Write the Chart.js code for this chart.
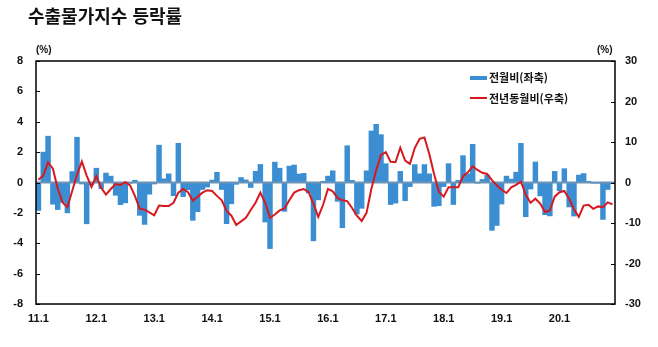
<!DOCTYPE html>
<html lang="ko">
<head>
<meta charset="UTF-8">
<title>수출물가지수 등락률</title>
<style>
    body { margin: 0; background: #fff; }
    #wrap { position: relative; width: 658px; height: 347px; }
    #chart { position: absolute; left: 0; top: 0; }
    .title {
        position: absolute; left: 28px; top: 2px;
        font-family: "Noto Sans CJK KR", sans-serif; font-weight: 700;
        font-size: 18px; color: #111;
    }
    .unit {
        position: absolute; top: 44px;
        font-family: "Liberation Sans", Arial, sans-serif; font-weight: 700;
        font-size: 10px; color: #111;
    }
    .legend {
        position: absolute; left: 470px;
        font-family: "Noto Sans CJK KR", sans-serif; font-weight: 700;
        font-size: 11px; color: #111; line-height: 14px;
    }
    .legend span.sw { position: absolute; left: 0; width: 17px; }
    .legend span.tx { position: absolute; left: 19px; top: 0; white-space: nowrap; }
</style>
<script src="https://cdn.jsdelivr.net/npm/chart.js"></script>
</head>
<body>
<div id="wrap">
    <canvas id="chart" width="658" height="347"></canvas>
    <div class="title">수출물가지수 등락률</div>
    <div class="unit" style="left:36px">(%)</div>
    <div class="unit" style="left:597px">(%)</div>
    <div class="legend" style="top:70px"><span class="sw" style="top:6px;height:4px;background:#3b8ed2"></span><span class="tx">전월비(좌축)</span></div>
    <div class="legend" style="top:91px"><span class="sw" style="top:6px;height:2px;background:#d7191f"></span><span class="tx">전년동월비(우축)</span></div>
</div>
<script>
// 연도 (x축 눈금은 매년 1월)
var years = ['11', '12', '13', '14', '15', '16', '17', '18', '19', '20'];

// 전월비 (%), 2011.1 ~ 2020.12
var momChange = [
    -1.84, 2.0, 3.05, -1.43, -1.78, -1.3, -2.0, 0.72, 2.98, -0.1, -2.72, -0.15,
    0.94, -0.4, 0.62, 0.42, -0.84, -1.46, -1.34, -0.05, 0.15, -2.16, -2.76, -0.77,
    -0.1, 2.46, 0.24, 0.57, -0.87, 2.58, -0.93, -0.48, -2.49, -1.92, -0.46, -0.3,
    0.16, 0.67, -0.46, -2.71, -1.4, -0.12, 0.33, 0.17, -0.33, 0.74, 1.19, -2.6,
    -4.35, 1.34, 0.94, -1.9, 1.08, 1.15, 0.56, 0.6, -0.7, -3.84, -1.14, 0.08,
    0.42, 0.77, -1.24, -2.98, 2.42, 0.14, -2.08, -1.7, 0.77, 3.39, 3.83, 3.15,
    1.24, -1.45, -1.36, 0.73, -1.2, -0.27, 1.18, 0.57, 1.18, 0.57, -1.57, -1.53,
    -0.27, 1.24, -1.45, 0.14, 1.77, 0.57, 2.51, -0.05, 0.2, 0.47, -3.15, -2.83,
    -1.42, 0.42, 0.22, 0.68, 2.58, -2.25, -0.43, 1.35, -0.88, -2.12, -2.2, 0.73,
    -0.54, 0.91, -1.61, -2.21, 0.49, 0.59, 0.08, -0.05, -0.05, -2.43, -0.46, -0.05
];

// 전년동월비 (%)
var yoyChange = [
    0.7, 1.7, 5.0, 3.4, -1.5, -4.9, -6.1, -2.1, 1.9, 5.2, 1.7, -1.1,
    1.6, -1.3, -3.0, -1.6, -0.4, -0.6, 0.1, -0.7, -3.3, -6.5, -6.7, -7.4,
    -8.1, -5.7, -5.8, -5.8, -5.0, -2.5, -1.6, -2.4, -4.5, -3.5, -2.5, -1.9,
    -2.1, -3.3, -4.4, -7.0, -8.2, -10.5, -9.6, -8.7, -6.8, -5.0, -2.5, -5.0,
    -8.7, -7.9, -6.9, -6.4, -4.4, -2.5, -1.9, -1.6, -2.4, -5.3, -8.5, -5.5,
    -1.6, -2.2, -3.8, -4.4, -4.6, -6.3, -8.2, -9.5, -7.5, -1.6, 3.0, 6.8,
    7.5, 5.1, 5.0, 8.6, 5.4, 4.6, 8.5, 10.8, 11.1, 7.1, 2.1, -2.3,
    -3.5, -1.2, -1.2, -1.2, 1.5, 2.5, 4.0, 3.1, 2.4, 2.1, 0.6, -0.7,
    -1.8, -2.6, -1.2, -0.6, 0.2, -3.0, -5.0, -4.0, -5.2, -7.3, -6.9, -3.5,
    -2.4, -2.1, -4.0, -6.6, -8.5, -5.7, -5.5, -6.5, -5.9, -6.1, -4.9, -5.4
];

var labels = [];
years.forEach(function (y) {
    for (var m = 1; m <= 12; m++) labels.push(y + '.' + m);
});

var tickFont = { family: '"Liberation Sans", Arial, sans-serif', size: 11, weight: 'bold' };

// 테두리, 0선, 안쪽 눈금
var framePlugin = {
    id: 'frame',
    beforeDatasetDraw: function (chart, args) {
        if (args.index !== 1) return;
        var a = chart.chartArea, y0 = chart.scales.y.getPixelForValue(0);
        var ctx = chart.ctx;
        ctx.save();
        ctx.strokeStyle = '#6f93b5';
        ctx.lineWidth = 2;
        ctx.beginPath();
        ctx.moveTo(a.left, y0);
        ctx.lineTo(a.right, y0);
        ctx.stroke();
        ctx.restore();
    },
    afterDraw: function (chart) {
        var a = chart.chartArea, ctx = chart.ctx;
        ctx.save();
        ctx.strokeStyle = '#000';
        ctx.lineWidth = 1.5;
        ctx.strokeRect(a.left, a.top, a.right - a.left, a.bottom - a.top);
        ctx.lineWidth = 1;
        chart.scales.y.ticks.forEach(function (t) {
            var py = Math.round(chart.scales.y.getPixelForValue(t.value)) + 0.5;
            ctx.beginPath(); ctx.moveTo(a.left, py); ctx.lineTo(a.left + 4, py); ctx.stroke();
        });
        chart.scales.y1.ticks.forEach(function (t) {
            var py = Math.round(chart.scales.y1.getPixelForValue(t.value)) + 0.5;
            ctx.beginPath(); ctx.moveTo(a.right, py); ctx.lineTo(a.right - 4, py); ctx.stroke();
        });
        ctx.restore();
    }
};

new Chart(document.getElementById('chart'), {
    data: {
        labels: labels,
        datasets: [{
            type: 'bar',
            label: '전월비(좌축)',
            data: momChange,
            yAxisID: 'y',
            backgroundColor: '#3b8ed2',
            barPercentage: 1,
            categoryPercentage: 1,
            order: 1
        }, {
            type: 'line',
            label: '전년동월비(우축)',
            data: yoyChange,
            yAxisID: 'y1',
            borderColor: '#d7191f',
            borderWidth: 2,
            pointRadius: 0,
            tension: 0,
            fill: false,
            order: 0
        }]
    },
    options: {
        responsive: false,
        animation: false,
        devicePixelRatio: 1,
        layout: { padding: { top: 61, left: 0, right: 0, bottom: 0 } },
        plugins: { legend: { display: false }, tooltip: { enabled: false } },
        scales: {
            x: {
                grid: { display: false, drawTicks: false },
                border: { display: false },
                afterFit: function (s) { s.height = 43; },
                ticks: {
                    autoSkip: false, maxRotation: 0, padding: 8,
                    color: '#111', font: tickFont,
                    callback: function (v, i) {
                        var l = labels[i];
                        return l.split('.')[1] === '1' ? l : '';
                    }
                }
            },
            y: {
                position: 'left', min: -8, max: 8,
                grid: { display: false, drawTicks: false },
                border: { display: false },
                afterFit: function (s) { s.width = 36; },
                ticks: { stepSize: 2, padding: 13, color: '#111', font: tickFont }
            },
            y1: {
                position: 'right', min: -30, max: 30,
                grid: { display: false, drawTicks: false },
                border: { display: false },
                afterFit: function (s) { s.width = 43; },
                ticks: { stepSize: 10, padding: 10, color: '#111', font: tickFont }
            }
        }
    },
    plugins: [framePlugin]
});
</script>
</body>
</html>
